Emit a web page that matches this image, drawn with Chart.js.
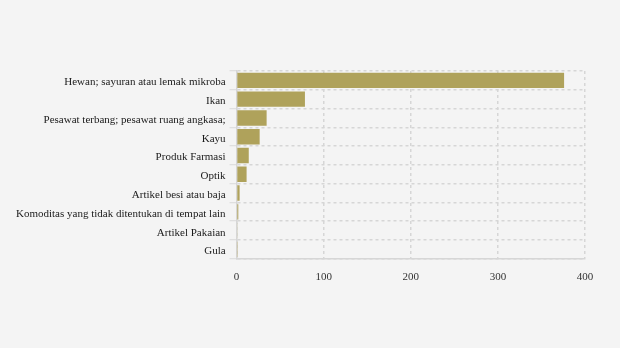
<!DOCTYPE html>
<html>
<head>
<meta charset="utf-8">
<script src="https://cdn.jsdelivr.net/npm/chart.js@4/dist/chart.umd.min.js"></script>
<style>
  html, body { margin: 0; padding: 0; background: #f4f4f4; }
  #wrap { width: 620px; height: 348px; }
</style>
</head>
<body>
<div id="wrap"><canvas id="c" width="620" height="348"></canvas></div>
<script>
const categories = [
  "Hewan; sayuran atau lemak mikroba",
  "Ikan",
  "Pesawat terbang; pesawat ruang angkasa;",
  "Kayu",
  "Produk Farmasi",
  "Optik",
  "Artikel besi atau baja",
  "Komoditas yang tidak ditentukan di tempat lain",
  "Artikel Pakaian",
  "Gula"
];
const values = [376, 78.5, 34.5, 26.5, 14, 11.5, 3.5, 2, 1, 0.4];
const xTicks = [0, 100, 200, 300, 400];

const gridColor = "#d6d6d6";

new Chart(document.getElementById("c"), {
  type: "bar",
  data: {
    labels: categories,
    datasets: [{
      data: values,
      backgroundColor: "#afa25b",
      borderWidth: 0,
      barPercentage: 0.82,
      categoryPercentage: 1
    }]
  },
  options: {
    indexAxis: "y",
    responsive: false,
    animation: false,
    layout: { padding: { top: 71, right: 35, bottom: 52, left: 12 } },
    plugins: { legend: { display: false }, tooltip: { enabled: false } },
    scales: {
      x: {
        min: 0,
        max: 400,
        afterBuildTicks: (axis) => { axis.ticks = xTicks.map(v => ({ value: v })); },
        grid: { color: gridColor, drawTicks: false, lineWidth: 1.5 },
        border: { display: true, color: gridColor, width: 1.5, dash: [3, 3] },
        ticks: { color: "#333", font: { family: "'Liberation Serif', serif", size: 11 }, padding: 12 }
      },
      y: {
        grid: { color: gridColor, lineWidth: 1.5, drawTicks: true, tickLength: 7, offset: true,
                tickColor: "#d9d9d9", tickWidth: 1 },
        border: { display: true, color: gridColor, width: 1.5, dash: [3, 3] },
        ticks: { color: "#1a1a1a", font: { family: "'Liberation Serif', serif", size: 11 }, padding: 4, labelOffset: 2 }
      }
    }
  }
});
</script>
</body>
</html>
